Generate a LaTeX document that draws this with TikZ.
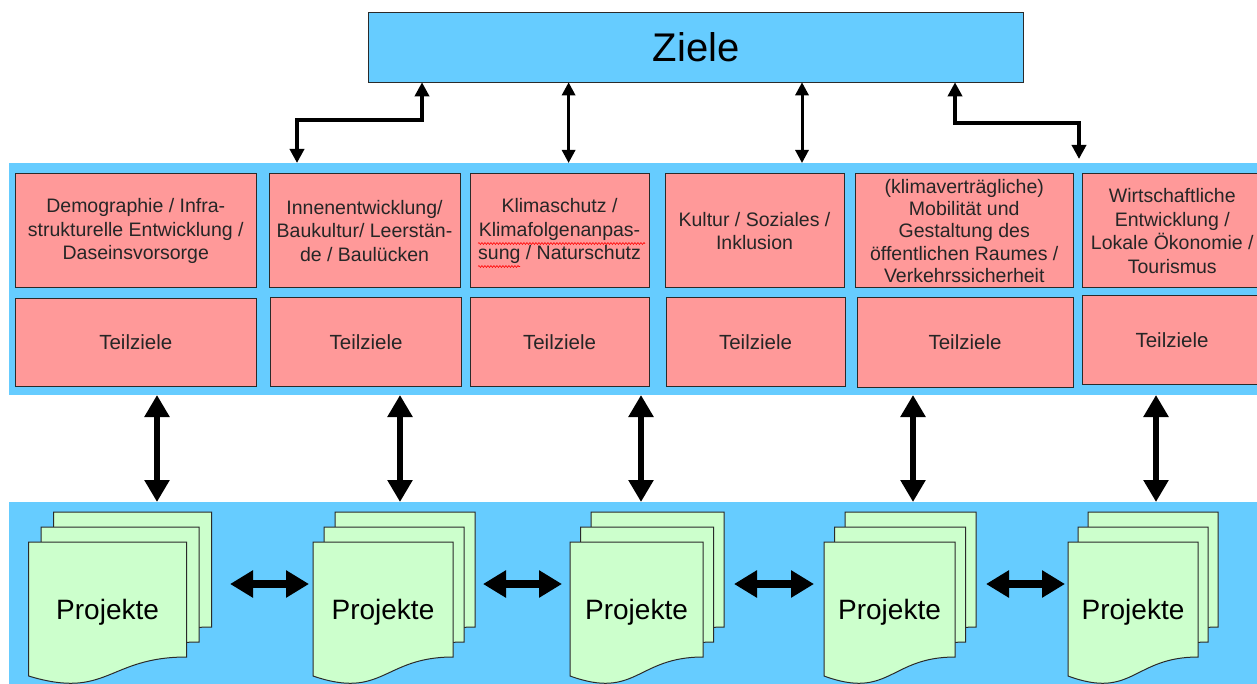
\documentclass[tikz,border=0pt]{standalone}
\usepackage{fontspec}
\setmainfont{Liberation Sans}
\usetikzlibrary{arrows.meta,decorations.pathmorphing,calc}
\definecolor{bandblue}{HTML}{66CCFF}
\definecolor{pinkbox}{HTML}{FF9999}
\definecolor{docgreen}{HTML}{CCFFCC}
\definecolor{edgegray}{HTML}{2A2A2A}
\tikzset{
  band/.style={fill=bandblue, draw=none, inner sep=0pt, outer sep=0pt},
  zielbox/.style={fill=bandblue, draw=edgegray, line width=1pt, inner sep=0pt, outer sep=0pt},
  pbox/.style={fill=pinkbox, draw=edgegray, line width=1pt, inner sep=0pt, outer sep=0pt, align=center, text=black!85},
  boxtext/.style={font=\fontsize{19.5}{23.5}\selectfont},
  tztext/.style={font=\fontsize{20.5}{24}\selectfont},
  docstyle/.style={fill=docgreen, draw=edgegray, line width=1pt, line join=miter},
  stackbox/.style={draw=none, inner sep=0pt, outer sep=0pt},
  toparrow/.style={line width=3pt, {Triangle[width=13pt,length=13pt]}-{Triangle[width=13pt,length=13pt]}},
  elbowarrow/.style={line width=4.5pt, line join=miter, {Triangle[width=14pt,length=14pt]}-{Triangle[width=14pt,length=14pt]}},
  vbigarrow/.style={line width=6pt, {Triangle[width=24pt,length=22pt]}-{Triangle[width=24pt,length=22pt]}},
  hbigarrow/.style={line width=8pt, {Triangle[width=26pt,length=23pt]}-{Triangle[width=26pt,length=23pt]}},
  squiggle/.style={draw=red, line width=0.6pt, decorate, decoration={snake, amplitude=0.9pt, segment length=3pt}}
}
\newcommand\docpage[3]{%
  \begin{scope}[shift={(#1,#2)}]
    \filldraw[docstyle] (0,0) -- (#3,0) -- (#3,115) .. controls ({#3/2},115) and ({#3/2},158) .. (0,134) -- cycle;
  \end{scope}}
\newcommand\docstack[3]{% front-left, width, offset
  \docpage{#1+2*#3}{512}{#2}
  \docpage{#1+#3}{527}{#2}
  \docpage{#1}{542}{#2}}
\begin{document}
\begin{tikzpicture}[x=1pt,y=-1pt]
\useasboundingbox (0,0) rectangle (1257,684);
\clip (0,0) rectangle (1257,684);
\fill[white] (0,0) rectangle (1257,684);

% top goal box
\node[zielbox, minimum width=655pt, minimum height=70pt] (ziele) at (696.3,47.3) {\fontsize{40}{48}\selectfont Ziele};

% bands
\node[band, minimum width=1248pt, minimum height=232pt] (band1) at (633,279) {};
\node[band, minimum width=1248pt, minimum height=184pt] (band2) at (633,594) {};

% theme boxes
\node[pbox, boxtext, minimum width=240.5pt, minimum height=114pt] (t1) at (135.75,231) {Demographie / Infra-\\strukturelle Entwicklung /\\Daseinsvorsorge};
\node[pbox, boxtext, minimum width=191pt, minimum height=114pt] (t2) at (364.5,231) {Innenentwicklung/\\Baukultur/ Leerstän-\\de / Baulücken};
\node[pbox, boxtext, minimum width=179pt, minimum height=114pt] (t3) at (559.5,231) {Klimaschutz /\\Klimafolgenanpas-\\sung / Naturschutz};
\node[pbox, boxtext, minimum width=179pt, minimum height=114pt] (t4) at (754.5,231) {Kultur / Soziales /\\Inklusion};
\node[pbox, font=\fontsize{19.5}{22.2}\selectfont, minimum width=217.5pt, minimum height=114pt] (t5) at (964.25,231) {(klimaverträgliche)\\Mobilität und\\Gestaltung des\\öffentlichen Raumes /\\Verkehrssicherheit};
\node[pbox, boxtext, minimum width=179.5pt, minimum height=114pt] (t6) at (1172.25,231) {Wirtschaftliche\\Entwicklung /\\Lokale Ökonomie /\\Tourismus};

% spell-check squiggles
\draw[squiggle] (478,243.5) -- (645,243.5);
\draw[squiggle] (478,266.5) -- (520,266.5);

% sub-goal boxes
\node[pbox, tztext, minimum width=240.5pt, minimum height=87pt] (z1) at (135.75,342.5) {Teilziele};
\node[pbox, tztext, minimum width=191pt, minimum height=88pt] (z2) at (366.1,342) {Teilziele};
\node[pbox, tztext, minimum width=179pt, minimum height=88pt] (z3) at (559.5,342) {Teilziele};
\node[pbox, tztext, minimum width=179pt, minimum height=88pt] (z4) at (755.5,342) {Teilziele};
\node[pbox, tztext, minimum width=216pt, minimum height=89pt] (z5) at (965,342.5) {Teilziele};
\node[pbox, tztext, minimum width=180pt, minimum height=88pt] (z6) at (1172,340) {Teilziele};

% top connectors
\coordinate (k1) at (422,120);
\coordinate (k2) at (297,120);
\coordinate (k3) at (955,123);
\coordinate (k4) at (1079,123);
\coordinate (s1) at (568.6,120);
\coordinate (s2) at (802,120);
\draw[elbowarrow] (ziele.south -| k1) -- (k1) -- (k2) -- (band1.north -| k2);
\draw[elbowarrow, shorten >=4pt] (ziele.south -| k3) -- (k3) -- (k4) -- (band1.north -| k4);
\draw[toparrow] (ziele.south -| s1) -- (band1.north -| s1);
\draw[toparrow] (ziele.south -| s2) -- (band1.north -| s2);

% project stacks
\docstack{28.6}{158}{12.5}
\docstack{313}{140}{11}
\docstack{570}{133}{10.5}
\docstack{824}{131}{10.5}
\docstack{1068}{130}{10}
\node[anchor=base, font=\fontsize{28}{32}\selectfont] (p1) at (107.6,619) {Projekte};
\node[anchor=base, font=\fontsize{28}{32}\selectfont] (p2) at (383,619) {Projekte};
\node[anchor=base, font=\fontsize{28}{32}\selectfont] (p3) at (636.5,619) {Projekte};
\node[anchor=base, font=\fontsize{28}{32}\selectfont] (p4) at (889.5,619) {Projekte};
\node[anchor=base, font=\fontsize{28}{32}\selectfont] (p5) at (1133,619) {Projekte};
\node[stackbox, minimum width=183pt, minimum height=172pt] (st1) at (120.05,598) {};
\node[stackbox, minimum width=162pt, minimum height=172pt] (st2) at (394,598) {};
\node[stackbox, minimum width=154pt, minimum height=172pt] (st3) at (647,598) {};
\node[stackbox, minimum width=152pt, minimum height=172pt] (st4) at (900,598) {};
\node[stackbox, minimum width=150pt, minimum height=172pt] (st5) at (1143,598) {};

% vertical arrows between goals and projects
\foreach \vx in {157,400,641,913,1156}{
  \coordinate (v) at (\vx,450);
  \draw[vbigarrow] (band1.south -| v) -- (band2.north -| v);
}

% horizontal arrows between projects
\coordinate (hy) at (0,584);
\draw[hbigarrow, shorten <=18.5pt, shorten >=4pt] (st1.east |- hy) -- (st2.west |- hy);
\draw[hbigarrow, shorten <=8pt, shorten >=8pt] (st2.east |- hy) -- (st3.west |- hy);
\draw[hbigarrow, shorten <=10pt, shorten >=10pt] (st3.east |- hy) -- (st4.west |- hy);
\draw[hbigarrow, shorten <=10pt, shorten >=3pt] (st4.east |- hy) -- (st5.west |- hy);
\end{tikzpicture}
\end{document}
